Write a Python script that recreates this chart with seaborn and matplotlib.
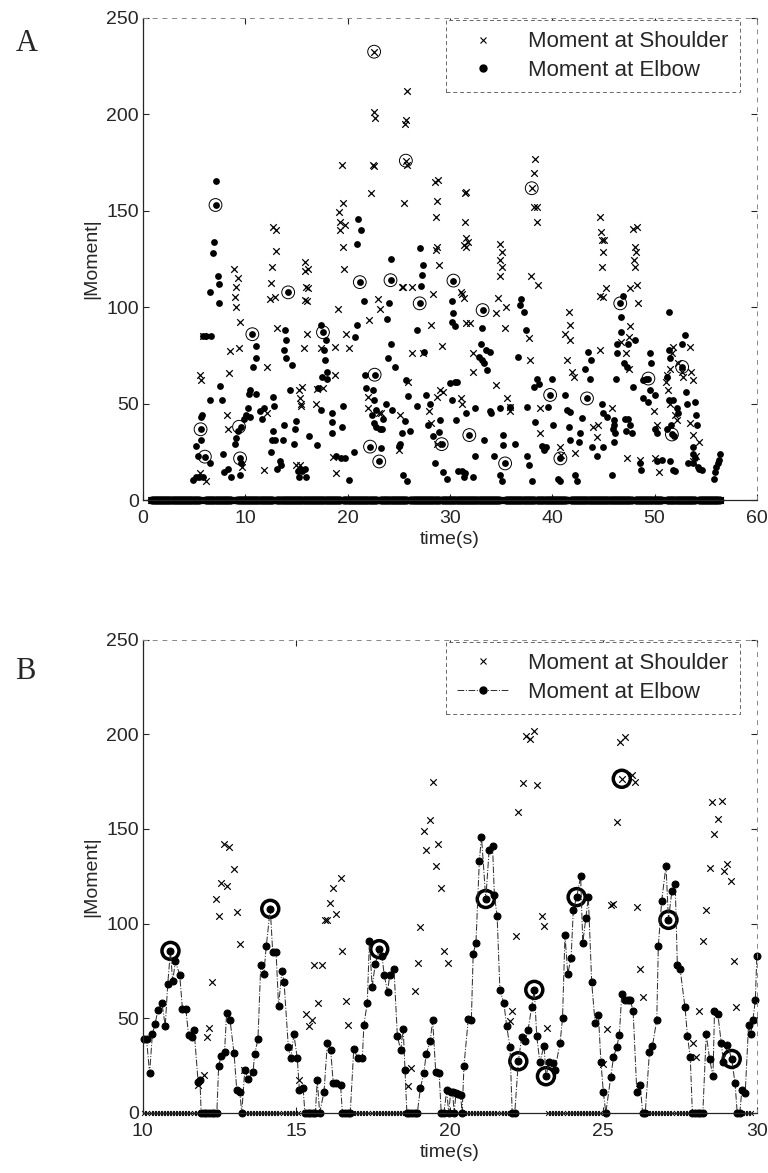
import numpy as np
import pandas as pd
import matplotlib
matplotlib.use('Agg')
import matplotlib.pyplot as plt
import seaborn as sns
from matplotlib.lines import Line2D

# ---------------- Panel A data (whole trial) ----------------
a_elbow = [
    (4.9, 10.4), (5.2, 12), (5.5, 12), (5.9, 12), (5.4, 23), (6.06, 22.5), (6.55, 19), (5.24, 28),
    (5.7, 31), (5.64, 36.7), (5.7, 43), (5.8, 44), (6.6, 52), (7.5, 59), (7.7, 52), (5.9, 85),
    (6.2, 85), (6.7, 85), (6.6, 108), (7.4, 102), (7.45, 112), (7.3, 116), (6.9, 128), (7.0, 134),
    (7.1, 153), (7.1, 165.5), (7.85, 24), (7.9, 14.7), (8.65, 12), (8.3, 16), (9.0, 29), (9.15, 32),
    (9.3, 36), (9.6, 38), (9.9, 42), (10.1, 44), (9.5, 21.6), (9.6, 19), (9.5, 13), (10.45, 43),
    (10.3, 47.5), (10.4, 55), (10.5, 57), (11.1, 55), (10.8, 69), (11.1, 73.5), (11.05, 80),
    (10.7, 86), (11.4, 46), (11.6, 42), (11.8, 47.5), (12.5, 25), (12.6, 31), (12.9, 31), (12.7, 36),
    (12.7, 53.6), (12.8, 49), (13.1, 16), (13.4, 20), (13.5, 18), (13.7, 31), (13.8, 39), (13.9, 88),
    (14.0, 83), (13.8, 78), (14.0, 73.5), (14.6, 70), (14.2, 107.7), (14.4, 57), (14.75, 29),
    (14.85, 36.7), (14.95, 41), (15.2, 15), (15.3, 12), (15.95, 12),
    (15.4, 16), (15.6, 15), (15.8, 16), (16.2, 33), (17.0, 28.5), (17.1, 58), (17.4, 46.7),
    (17.45, 90.8), (17.6, 87), (17.9, 83), (17.7, 77.8), (17.8, 72.6), (17.95, 66.6), (17.5, 64),
    (18.0, 63), (18.45, 34.6), (18.5, 40.6), (18.45, 45), (18.87, 23), (19.4, 21.6), (19.5, 38),
    (19.6, 49), (20.1, 10.4), (19.75, 21.6), (20.6, 25), (20.7, 84.7), (20.9, 90.8), (21.05, 145.6),
    (21.3, 140), (20.9, 133), (21.2, 113), (21.6, 103), (21.7, 65), (21.8, 58), (22.5, 57),
    (22.6, 52), (22.8, 46.7), (22.4, 44), (22.55, 40), (22.75, 38), (23.15, 37), (23.4, 37),
    (23.5, 42), (22.65, 65), (22.2, 27.7), (23.1, 20), (23.3, 26.8), (23.95, 73.5), (24.2, 81),
    (23.85, 94), (24.1, 102), (24.2, 125), (24.2, 114), (23.75, 50), (24.3, 46.7), (24.6, 69),
    (25.0, 28), (25.1, 29), (25.45, 13), (25.8, 10), (25.3, 34.6), (25.6, 41), (25.7, 62),
    (25.9, 54), (26.1, 36), (26.75, 49), (26.8, 88), (27.05, 102), (27.15, 111), (27.25, 116.7),
    (27.4, 122), (27.1, 130.5), (27.5, 77), (27.7, 54.5), (27.9, 39), (28.1, 50), (28.4, 33),
    (28.55, 19), (28.95, 35.4), (29.0, 41.5), (29.2, 29), (29.35, 14.7), (29.7, 11), (30.2, 52),
    (30.0, 60.5), (30.2, 103), (30.35, 97), (30.2, 92.5), (30.5, 90), (30.35, 113.8), (30.5, 61),
    (30.65, 61), (30.6, 41.5), (30.8, 15), (31.2, 15), (31.5, 14),
    (31.35, 12), (32.3, 12), (31.9, 33.7), (32.45, 23), (31.6, 45), (32.5, 47.5), (33.3, 31),
    (33.1, 72.6), (32.8, 74), (33.3, 71), (33.6, 67.4), (33.5, 77.8), (33.9, 76.7), (33.0, 81),
    (33.1, 89), (33.2, 98.5), (33.9, 46), (34.0, 45), (34.3, 23), (34.9, 13), (35.1, 10),
    (35.4, 19), (35.2, 33.7), (35.15, 28.5), (36.4, 29), (34.9, 47.5), (35.9, 48), (36.7, 74),
    (37.0, 104), (36.9, 101), (37.2, 97.7), (37.4, 88), (37.5, 48), (37.7, 18), (37.5, 23),
    (38.0, 10), (38.3, 40.6), (38.5, 63), (38.7, 60), (38.2, 58.8), (39.0, 28), (39.2, 26),
    (39.4, 27.7), (39.6, 48), (40.0, 63), (40.1, 39), (39.8, 54.5), (40.8, 21.6), (40.6, 11),
    (40.8, 10), (41.4, 46.7), (41.3, 54.5), (41.6, 38), (41.75, 45.8), (41.7, 31), (42.2, 13),
    (42.4, 10), (42.6, 30), (42.75, 34.6), (42.9, 42.4), (43.2, 68), (43.5, 77), (43.8, 72.6),
    (43.7, 63), (43.4, 52.7), (43.9, 27.7), (44.4, 23), (44.9, 50), (45.0, 45), (45.4, 43),
    (46.0, 39), (46.1, 34.6), (45.8, 13), (46.2, 63), (46.3, 81), (46.35, 76), (46.7, 87),
    (46.7, 95), (46.65, 102), (46.9, 106), (47.0, 71), (47.1, 42), (47.2, 36),
    (47.3, 69), (47.4, 81), (48.1, 83), (47.9, 58.8), (48.9, 62), (49.2, 63), (49.4, 63),
    (48.9, 52.7), (49.6, 76), (49.7, 71), (49.6, 57), (50.0, 54.5), (49.4, 51), (50.0, 37),
    (50.2, 34.6), (46.0, 41.5), (45.95, 37), (47.4, 42), (47.6, 39), (47.8, 34.6), (46.0, 30),
    (45.0, 27.7), (48.6, 19), (48.7, 15.6), (50.2, 20), (50.7, 20.7), (51.4, 97.7), (51.4, 77.8),
    (51.55, 73.5), (51.2, 64), (51.4, 52), (51.8, 52), (52.2, 47.6), (52.3, 45), (52.7, 69),
    (53.0, 85.6), (52.7, 81), (51.6, 39), (51.9, 33), (51.7, 34), (51.2, 37), (51.5, 20),
    (51.8, 15.6), (52.0, 15), (53.2, 50), (54.0, 51), (54.1, 44), (54.15, 39), (53.1, 56),
    (53.8, 27.7), (53.8, 24), (53.95, 21.6), (54.2, 17), (54.3, 16), (53.3, 19), (53.8, 19),
    (54.6, 15.6), (55.9, 14.7), (56.0, 17), (56.2, 19), (56.3, 21), (56.4, 24), (55.8, 11),
]
a_shoulder = [
    (5.6, 14), (6.2, 10), (5.6, 65), (5.7, 62), (5.9, 85), (8.25, 44), (8.35, 37), (8.45, 66),
    (8.5, 77.5), (9.4, 79), (9.5, 92.5), (9.1, 100), (9.0, 105.5), (9.15, 110.5), (9.25, 115),
    (8.9, 120), (9.7, 17), (12.1, 45), (12.1, 69), (12.4, 104), (12.9, 105.5), (12.5, 112.7),
    (12.6, 121), (13.0, 129), (12.7, 141.7), (13.0, 140), (13.1, 89), (11.8, 15.6), (15.0, 18),
    (15.4, 18), (15.3, 57), (15.4, 53), (15.45, 49), (15.7, 78.7), (15.6, 58.8), (16.0, 103),
    (16.1, 110), (16.15, 120),
    (15.5, 50), (15.85, 123.6), (15.85, 119), (15.9, 110.6), (15.85, 103.7), (16.0, 86),
    (17.4, 79), (18.8, 79.5), (20.1, 78.7), (19.9, 86), (19.1, 99), (18.8, 65), (19.3, 140),
    (19.3, 144), (19.75, 142.7), (19.6, 131), (19.55, 154), (19.2, 149.6), (19.7, 119.6),
    (19.5, 174), (17.6, 58), (17.0, 57.5), (16.95, 50), (18.6, 22.5), (18.9, 14), (22.1, 93.4),
    (22.0, 53.6), (22.0, 47.6), (22.3, 159), (23.0, 104), (23.2, 99), (22.45, 173.7), (22.6, 173),
    (22.6, 201), (22.65, 198), (22.6, 232.5), (23.1, 45), (23.25, 45), (25.1, 44), (25.0, 26),
    (25.9, 61), (26.3, 110.6), (25.3, 110.6), (25.45, 110.6), (25.5, 154), (25.7, 197),
    (25.65, 195), (25.8, 212), (25.7, 176), (25.8, 174), (26.3, 76), (27.4, 76), (28.2, 90.8),
    (28.4, 107), (29.2, 80), (28.9, 122), (28.6, 129.7), (28.75, 131), (28.6, 147), (28.7, 155),
    (28.5, 165), (28.85, 166), (29.0, 57), (29.35, 56), (28.7, 53.6), (28.0, 46), (28.2, 40),
    (28.75, 29), (31.2, 50), (31.05, 53), (31.5, 159.4), (31.5, 144), (31.6, 135.7), (31.55, 131),
    (31.2, 107), (31.35, 104.6), (31.6, 91.6),
    (31.6, 160), (31.75, 134), (31.4, 132), (31.1, 108), (32.0, 91.6), (32.3, 76), (32.3, 66.6),
    (34.7, 104.6), (34.5, 97), (35.5, 100), (35.4, 89), (34.9, 133), (35.1, 128.8), (34.9, 124.6),
    (35.1, 121), (34.9, 116), (34.5, 59.6), (35.6, 52.7), (35.9, 48), (35.85, 46), (37.9, 116),
    (38.6, 111.5), (38.3, 177), (38.2, 169.4), (38.0, 161.7), (38.25, 152), (38.5, 152),
    (38.5, 144), (37.7, 84), (37.8, 72.6), (38.8, 34.6), (38.8, 47.5), (40.8, 27.7), (40.9, 23.3),
    (41.6, 97.7), (41.7, 90.8), (41.3, 86), (41.7, 83), (41.4, 72.6), (41.9, 66.6), (42.1, 64),
    (42.2, 24.2), (44.0, 38), (44.7, 147), (44.9, 135), (45.0, 128.8), (44.9, 121), (45.3, 110),
    (44.7, 106), (44.7, 77.8), (44.5, 38.9), (44.4, 32.8), (45.8, 47.5), (47.6, 110), (47.5, 84.7),
    (47.5, 68), (47.3, 21.6),
    (44.8, 139), (45.1, 135), (45.0, 105.5), (47.9, 140.5), (48.3, 141.4), (48.1, 131),
    (48.2, 128.8), (48.0, 124.6), (48.1, 121), (48.3, 111.5), (48.4, 102), (47.6, 90), (53.5, 79.5),
    (53.6, 66.6), (53.8, 62), (51.2, 65), (51.5, 68), (51.8, 79.5), (51.7, 76), (51.1, 61),
    (51.3, 57), (51.5, 50), (52.3, 71), (52.7, 66.6), (52.8, 64), (49.9, 46), (50.2, 39),
    (53.5, 40), (53.8, 33.7), (52.0, 44), (52.2, 41.5), (48.6, 20.7), (50.4, 14.7), (50.0, 21.6),
    (54.3, 30), (53.8, 20), (54.1, 23), (47.2, 76), (46.7, 82),
]
a_circled = [
    (5.64, 36.7), (6.06, 22.5), (7.1, 153), (9.5, 21.6), (9.4, 38), (10.7, 86), (14.2, 107.7),
    (17.6, 87), (21.2, 113), (22.2, 27.7), (22.65, 65), (23.1, 20), (24.2, 114), (27.05, 102),
    (29.2, 29), (30.35, 113.8), (31.9, 33.7), (33.2, 98.5), (35.4, 19), (39.8, 54.5), (40.8, 21.6),
    (43.4, 52.7), (46.65, 102), (49.4, 63), (51.7, 34), (52.7, 69), (22.6, 232.5), (25.7, 176),
    (38.0, 161.7),
]
# stretches of time where both moments sit at zero
a_zero_spans = [(0.8, 5.55), (6.1, 8.65), (9.15, 12.7), (13.05, 19.3), (19.6, 22.85),
                (23.2, 25.8), (26.1, 29.0), (29.2, 34.9), (35.4, 38.3), (38.5, 41.4),
                (41.8, 47.8), (48.1, 50.7), (51.2, 54.0), (54.3, 56.4)]

# ---------------- Panel B data (10-30 s detail) ----------------
b_elbow = [
    (10.05, 39), (10.12, 39), (10.22, 21), (10.31, 41.5), (10.40, 47), (10.49, 54.5), (10.62, 58),
    (10.73, 46), (10.81, 68), (10.90, 85.6), (10.97, 69.5), (11.06, 80), (11.20, 73), (11.29, 55),
    (11.40, 55), (11.49, 41), (11.60, 40), (11.67, 43.6), (11.80, 16.4), (11.86, 17.3),
    (12.47, 25), (12.55, 30), (12.66, 32), (12.73, 53), (12.84, 49), (12.97, 31.5), (13.06, 12),
    (13.16, 11), (13.32, 22.5), (13.43, 18), (13.59, 21.6), (13.64, 31), (13.75, 39), (13.84, 78),
    (13.94, 73.5), (14.02, 88), (14.15, 107.8), (14.23, 85), (14.34, 85), (14.42, 56.6),
    (14.53, 75), (14.60, 69), (14.74, 34.6), (14.82, 29), (14.92, 41.5), (15.03, 29), (15.10, 12),
    (15.22, 13), (15.68, 17.3), (15.90, 11), (16.01, 37), (16.12, 33), (16.20, 16), (16.29, 15.6),
    (16.44, 14.7), (16.87, 33.7), (17.00, 29), (17.15, 29), (17.20, 46.7), (17.31, 58),
    (17.38, 91), (17.47, 66.6), (17.57, 78.7), (17.70, 86.5), (17.79, 83), (17.86, 73),
    (17.97, 64), (18.04, 72.7), (18.18, 76), (18.29, 40.7), (18.40, 33), (18.48, 44.6),
    (18.54, 22.5), (19.04, 13), (19.15, 21), (19.23, 31), (19.36, 38), (19.44, 49), (19.54, 21.6),
    (19.65, 21), (19.90, 12), (20.03, 11), (20.09, 11), (20.20, 10.4), (20.27, 10), (20.35, 9.5),
    (20.46, 25), (20.60, 49.6), (20.70, 49), (20.76, 84), (20.85, 90), (20.96, 133), (21.03, 146),
    (21.17, 113), (21.28, 139), (21.39, 141), (21.45, 115), (21.54, 104), (21.63, 65),
    (21.76, 58), (21.85, 46), (21.96, 34.6), (22.23, 27.3), (22.34, 40), (22.45, 38), (22.55, 44),
    (22.66, 55.7), (22.75, 65), (22.83, 40.7), (22.93, 26.8), (23.07, 35.5), (23.13, 19.4),
    (23.24, 26.8), (23.35, 26.3), (23.42, 22.5), (23.59, 37), (23.67, 50), (23.75, 94),
    (23.84, 73.5), (23.95, 82), (24.02, 107), (24.13, 114), (24.26, 125), (24.33, 90),
    (24.43, 103), (24.51, 114), (24.62, 69), (24.73, 47.6), (24.84, 51.6), (24.92, 27),
    (25.00, 11), (25.24, 19), (25.33, 29.4), (25.43, 34.6), (25.52, 41), (25.60, 63),
    (25.71, 59.7), (25.80, 59.7), (25.88, 59.7), (25.97, 53.6), (26.09, 11.2), (26.20, 14.7),
    (26.50, 32), (26.60, 35.5), (26.74, 49.3), (26.79, 88), (26.90, 112), (27.04, 130.6),
    (27.12, 102), (27.23, 117), (27.34, 121), (27.41, 78), (27.50, 76), (27.66, 55.7),
    (27.74, 40.7), (27.83, 29.4), (28.35, 41.5), (28.46, 28.5), (28.57, 19.4), (28.62, 53.6),
    (28.73, 52), (28.84, 37), (28.91, 26.8), (29.04, 36), (29.18, 28.5), (29.29, 15.6),
    (29.51, 12), (29.62, 10.4), (29.73, 46.7), (29.80, 41.5), (29.87, 49), (29.95, 59.7),
    (30.00, 83),
]
b_elbow_zero_spans = [(11.9, 12.42), (13.22, 13.28), (15.28, 15.62), (15.76, 15.84),
                      (16.5, 16.8), (18.6, 19.0), (19.72, 19.85), (19.96, 19.98),
                      (20.14, 20.16), (20.4, 20.42), (22.03, 22.17), (25.08, 25.16),
                      (26.28, 26.44), (27.9, 28.28), (29.36, 29.46)]
b_shoulder = [
    (11.80, 14.7), (11.99, 20), (12.09, 40), (12.15, 45), (12.25, 69), (12.38, 113), (12.47, 104),
    (12.55, 121.5), (12.65, 142), (12.73, 120), (12.82, 140.5), (12.97, 129), (13.06, 106),
    (13.16, 89.4), (13.30, 22.5), (15.10, 17.6), (15.33, 52), (15.41, 46), (15.51, 49),
    (15.59, 78), (15.69, 58), (15.83, 78), (15.94, 102), (16.00, 102), (16.08, 110.7),
    (16.19, 119), (16.29, 105), (16.44, 124), (16.50, 85.6), (16.61, 59), (16.69, 46.7),
    (18.64, 14.4), (18.75, 24), (18.88, 64.5), (18.96, 79), (19.04, 98), (19.15, 149),
    (19.22, 139), (19.36, 154.5), (19.44, 174.7), (19.55, 130.6), (19.62, 142), (19.71, 119),
    (19.82, 85.6), (19.95, 79), (21.96, 48.4), (22.04, 53.6), (22.15, 93.4), (22.23, 159),
    (22.39, 174.4), (22.48, 199), (22.60, 197.6), (22.75, 201.5), (22.83, 173), (22.99, 104),
    (23.07, 99), (23.15, 45), (25.00, 26), (25.11, 44.6), (25.24, 110), (25.33, 110.4),
    (25.43, 153.6), (25.54, 196), (25.60, 176.5), (25.70, 198.6), (25.92, 178.5), (26.03, 174.7),
    (26.10, 109), (26.20, 76), (26.30, 61), (27.91, 37), (28.02, 29.8), (28.10, 53.6),
    (28.26, 90.8), (28.35, 107), (28.46, 129.4), (28.53, 164), (28.60, 147.4), (28.72, 155),
    (28.86, 165), (28.93, 128), (29.04, 131.5), (29.15, 122.5), (29.24, 80), (29.33, 55.7),
    (29.90, 49),
]
b_shoulder_zero_spans = [(10.05, 11.75), (13.35, 15.05), (16.75, 18.6), (20.15, 21.95),
                         (23.2, 24.95), (26.35, 27.85), (29.4, 29.85)]
b_circled = [(10.90, 85.6), (14.15, 107.8), (17.70, 86.5), (21.17, 113), (22.23, 27.3),
             (22.75, 65), (23.13, 19.4), (24.13, 114), (25.60, 176.5), (27.12, 102),
             (29.18, 28.5)]


def span_zeros(spans, step):
    t = np.concatenate([np.arange(s, e + 1e-9, step) for s, e in spans])
    return pd.DataFrame({'t': t, 'v': 0.0})


def frame(pairs):
    return pd.DataFrame(pairs, columns=['t', 'v'])


sns.set_style('ticks')
plt.rcParams['font.family'] = ['Liberation Sans', 'DejaVu Sans']

fig = plt.figure(figsize=(7.68, 11.73), dpi=100)
ax_a = fig.add_axes([0.186, 0.5737, 0.7995, 0.411])
ax_b = fig.add_axes([0.186, 0.0512, 0.7995, 0.4035])

dot_kw = dict(marker='o', color='black', s=24, linewidth=0, legend=False)
x_kw = dict(marker='x', color='black', s=22, linewidth=0.9, legend=False)

# ----- panel A -----
zeros_a = span_zeros(a_zero_spans, 0.05)
sns.scatterplot(data=zeros_a, x='t', y='v', ax=ax_a, marker='o', color='black', s=30,
                linewidth=0, legend=False, clip_on=False)
sns.scatterplot(data=zeros_a, x='t', y='v', ax=ax_a, **x_kw, clip_on=False)
sns.scatterplot(data=frame(a_shoulder), x='t', y='v', ax=ax_a, **x_kw)
sns.scatterplot(data=frame(a_elbow), x='t', y='v', ax=ax_a, **dot_kw)
ca = frame(a_circled)
ax_a.scatter(ca['t'], ca['v'], s=85, facecolors='none', edgecolors='black', linewidths=0.7)

# ----- panel B -----
el_b = pd.concat([frame(b_elbow), span_zeros(b_elbow_zero_spans, 0.085)]).sort_values('t')
sh_zero_b = span_zeros(b_shoulder_zero_spans, 0.1)
sns.scatterplot(data=sh_zero_b, x='t', y='v', ax=ax_b, marker='x', color='black', s=12,
                linewidth=0.7, legend=False, clip_on=False)
sns.lineplot(data=el_b, x='t', y='v', ax=ax_b, sort=False, estimator=None, color='#333333',
             linewidth=0.75, linestyle='-.', marker='o', markersize=5, markerfacecolor='black',
             markeredgecolor='black', clip_on=False)
sns.scatterplot(data=frame(b_shoulder), x='t', y='v', ax=ax_b, marker='x', color='black', s=22,
                linewidth=0.85, legend=False)
cb = frame(b_circled)
ax_b.scatter(cb['t'], cb['v'], s=150, facecolors='none', edgecolors='black', linewidths=2.5)

# ----- axes styling -----
for ax, xlim, xticks in [(ax_a, (0, 60), range(0, 61, 10)), (ax_b, (10, 30), range(10, 31, 5))]:
    ax.set_xlim(*xlim)
    ax.set_ylim(0, 250)
    ax.set_xticks(list(xticks))
    ax.set_yticks(range(0, 251, 50))
    ax.tick_params(direction='in', length=4, labelsize=14, width=0.8, top=True, right=True)
    ax.tick_params(axis='x', pad=7)
    ax.tick_params(axis='y', pad=3)
    ax.set_xlabel('time(s)', fontsize=14, labelpad=3)
    ax.set_ylabel('|Moment|', fontsize=14, labelpad=4)
    for side in ['left', 'bottom']:
        ax.spines[side].set_linewidth(0.9)
    for side in ['top', 'right']:
        ax.spines[side].set_visible(True)
        ax.spines[side].set_color('#888888')
        ax.spines[side].set_linewidth(0.7)
        ax.spines[side].set_linestyle((0, (4, 6)))

handles_a = [Line2D([], [], marker='x', color='black', linestyle='none', markersize=5, markeredgewidth=0.8),
             Line2D([], [], marker='o', color='black', linestyle='none', markersize=5)]
handles_b = [Line2D([], [], marker='x', color='black', linestyle='none', markersize=5, markeredgewidth=0.8),
             Line2D([], [], marker='o', color='#333333', linestyle='-.', linewidth=0.75, markersize=5,
                    markerfacecolor='black', markeredgecolor='black')]
labels = ['Moment at Shoulder', 'Moment at Elbow']
for ax, h in [(ax_a, handles_a), (ax_b, handles_b)]:
    leg = ax.legend(h, labels, loc='upper right', bbox_to_anchor=(0.976, 1.0), borderaxespad=0.1,
                    fontsize=16, frameon=True, fancybox=False, handlelength=2.3, handletextpad=0.9,
                    borderpad=0.5, labelspacing=0.35)
    fr = leg.get_frame()
    fr.set_edgecolor('#666666')
    fr.set_linewidth(0.7)
    fr.set_linestyle((0, (4, 3)))
    fr.set_alpha(1)

fig.text(0.02, 0.975, 'A', fontsize=22, family='Liberation Serif', va='top')
fig.text(0.02, 0.440, 'B', fontsize=22, family='Liberation Serif', va='top')

fig.savefig('out.png', dpi=100)
